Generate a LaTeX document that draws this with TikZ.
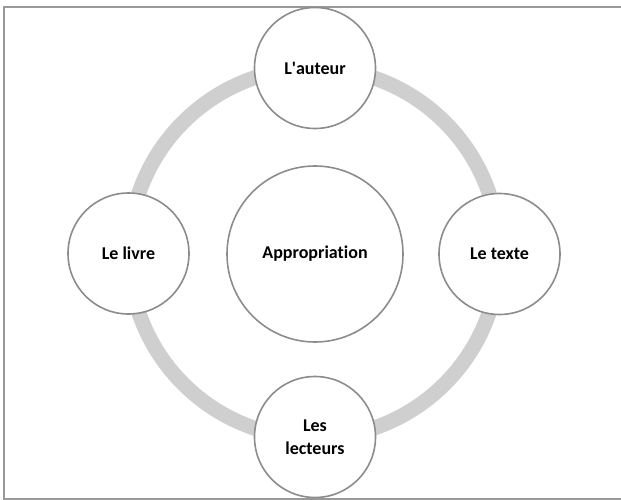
\documentclass[tikz,border=0pt]{standalone}
\usepackage{fontspec}
\setmainfont{Carlito}[Ligatures={NoCommon}]
\begin{document}
\begin{tikzpicture}[x=1pt,y=-1pt,
  frameline/.style={draw=black!40,line width=2pt},
  ring/.style={draw=black!19,line width=15pt},
  bubble/.style={circle,draw=black!45,line width=1.6pt,fill=white,
    inner sep=0pt,align=center,font=\bfseries\fontsize{18}{23}\selectfont},
  small/.style={bubble,minimum size=121pt},
  big/.style={bubble,minimum size=176pt}]
\useasboundingbox (0,0) rectangle (621,500);
% outer frame (top, left, bottom edges)
\coordinate (tr) at (621,7.5);
\coordinate (tl) at (3.5,7.5);
\coordinate (bl) at (3.5,498.5);
\coordinate (br) at (621,498.5);
\draw[frameline] (tr) -- (tl) -- (bl) -- (br);
% cycle ring behind the nodes
\coordinate (o) at (314,253);
\draw[ring] (o) circle[radius=185];
% nodes
\node[big] (app) at (315,254) {Appropriation};
\node[small] (aut) at (315,68) {L\textquotesingle auteur};
\node[small] (txt) at (499.5,254) {Le texte};
\node[small] (lec) at (315,437) {Les\\lecteurs};
\node[small] (liv) at (128.5,253.5) {Le livre};
\end{tikzpicture}
\end{document}
